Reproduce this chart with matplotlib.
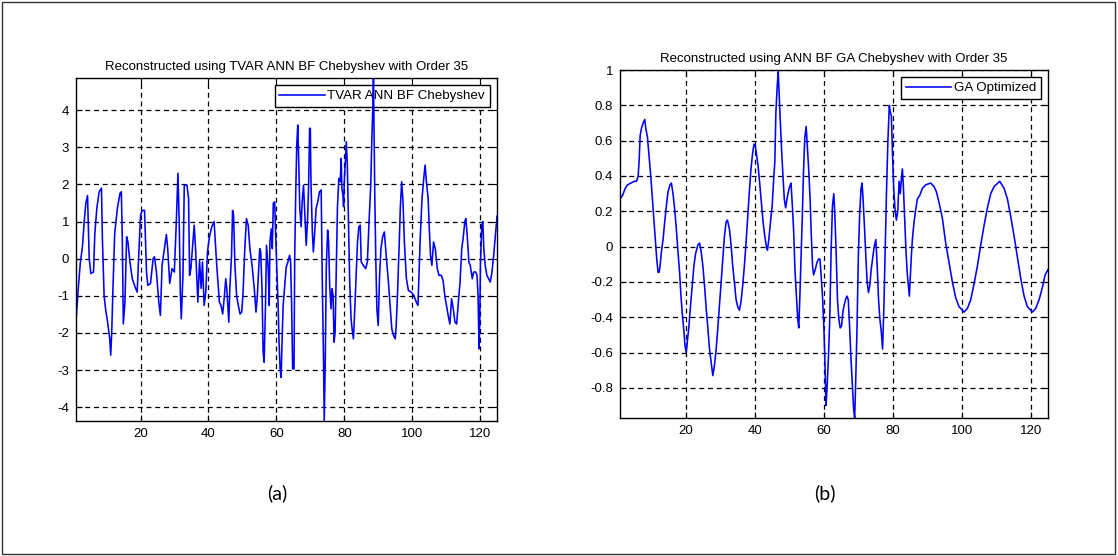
import matplotlib
matplotlib.use('Agg')
import matplotlib.pyplot as plt
from matplotlib.patches import Rectangle
from matplotlib.ticker import FormatStrFormatter

plt.rcParams['font.family'] = ['Liberation Sans', 'DejaVu Sans']
plt.rcParams['axes.unicode_minus'] = False

# (a) TVAR ANN BF Chebyshev reconstruction
a_x = [1, 1.66, 2.24, 2.93, 3.41, 3.9, 4.39, 4.88, 5.37, 6.15, 6.54, 7.12, 7.8, 8.49, 8.78,
       9.27, 9.76, 10.24, 10.93, 11.22, 11.51, 11.9, 12.39, 13.17, 13.95, 14.34, 14.63, 14.93,
       15.41, 15.9, 16.29, 16.88, 17.56, 18.54, 19.02, 19.51, 20.0, 20.49, 21.17, 21.76, 22.15,
       22.93, 23.71, 24.1, 24.68, 25.37, 25.85, 26.34, 27.02, 27.61, 28.0, 28.59, 29.27, 29.95,
       30.54, 31.02, 31.41, 31.71, 32.0, 32.49, 32.88, 33.66, 34.15, 34.44, 34.83, 35.41, 35.8,
       36.2, 36.59, 36.88, 37.37, 37.85, 38.24, 38.73, 39.22, 39.71, 40.29, 40.98, 41.66, 42.44,
       43.22, 43.7, 44.2, 44.7, 45.1, 45.4, 45.7, 46.0, 46.3, 46.8, 47.1, 47.4, 47.8, 48.3, 48.8,
       49.3, 49.8, 50.2, 50.7, 51.2, 51.7, 52.2, 52.9, 53.5, 54.0, 54.4, 55.1, 55.4, 55.8, 56.1,
       56.4, 56.8, 57.1, 57.6, 57.9, 58.1, 58.5, 58.8, 59.1, 59.5, 59.8, 60.2, 60.5, 60.8, 61.1,
       61.4, 61.7, 62.0, 62.4, 62.9, 63.4, 63.9, 64.2, 64.5, 64.8, 65.2, 65.4, 65.7, 66.0, 66.3,
       66.6, 66.9, 67.3, 67.6, 68.0, 68.4, 68.8, 69.2, 69.5, 69.8, 70.0, 70.2, 70.6, 70.9, 71.3,
       71.7, 72.2, 72.7, 73.2, 73.5, 73.9, 74.1, 74.4, 74.7, 75.1, 75.4, 75.7, 76.1, 76.4, 76.7,
       77.0, 77.3, 77.7, 78.0, 78.4, 78.8, 79.1, 79.3, 79.6, 79.8, 80.0, 80.3, 80.6, 80.9, 81.2,
       81.6, 82.0, 82.3, 82.7, 83.1, 83.5, 83.9, 84.3, 84.7, 85.0, 85.6, 86.3, 86.8, 87.3, 87.8,
       88.1, 88.4, 88.6, 88.8, 89.0, 89.3, 89.6, 90.0, 90.4, 90.8, 91.3, 91.8, 92.1, 92.5, 93.0,
       93.5, 94.0, 94.5, 95.0, 95.3, 95.7, 96.2, 96.5, 96.9, 97.3, 97.7, 98.3, 98.9, 99.7, 100.5,
       101.2, 101.7, 102.0, 102.4, 102.9, 103.5, 103.8, 104.2, 104.7, 105.0, 105.4, 105.8, 106.3,
       106.8, 107.4, 107.9, 108.6, 109.1, 109.6, 110.1, 110.6, 111.1, 111.6, 112.1, 112.6, 113.1,
       113.6, 114.1, 114.6, 115.0, 115.5, 115.8, 116.2, 116.7, 117.1, 117.7, 118.1, 118.7, 119.1,
       119.4, 119.7, 119.9, 120.1, 120.5, 120.8, 121.1, 121.5, 122.0, 122.5, 123.0, 123.5, 124.0,
       124.5, 125.0]
a_y = [-1.67, -0.8, -0.14, 0.36, 1.0, 1.5, 1.7, 0.0, -0.4, -0.36, 0.68, 1.35, 1.8, 1.9, 0.5,
       -1.0, -1.4, -1.67, -2.16, -2.6, -2.0, -0.72, 0.68, 1.35, 1.76, 1.8, 0.54, -1.76,
       -1.17, 0.59, 0.45, -0.09, -0.54, -0.8, -0.9, 0.18, 1.17, 1.3, 1.3, -0.36, -0.72,
       -0.67, 0.0, 0.05, -0.36, -1.17, -1.53, -0.18, 0.27, 0.65, 0.27, -0.67, -0.27, -0.36,
       1.0, 2.3, 0.9, -0.9, -1.62, -0.45, 1.98, 1.98, 1.62, -0.45, -0.27, 0.45, 0.9,
       0.27, -0.54, -1.17, -0.05, -0.8, -0.09, -1.26, -0.9, 0.18, 0.59, 0.86, 1.0, -0.18,
       -1.17, -1.26, -1.49, -1.0, -0.54, -0.81, -1.26, -1.71, -0.81, 0.09, 1.3, 1.17, -0.18, -1.0, -1.26,
       -1.49, -1.44, -0.9, 0.27, 1.08, 0.9, 0.27, -0.23, -0.81, -1.44, -1.0, 0.27, 0.18, -0.9, -2.52,
       -2.79, -1.26, 0.36, -0.27, -1.26, 0.45, 0.8, 0.27, 1.49, 1.53, 0.63, -0.45, -1.17, -2.25, -2.97,
       -3.2, -2.16, -1.26, -0.81, -0.23, -0.09, 0.09, -0.09, -1.26, -2.97, -2.97, 0.0, 1.76, 3.02, 3.6,
       2.57, 1.35, 0.86, 1.53, 1.98, 1.17, 0.36, 1.08, 1.98, 3.51, 3.51, 2.03, 0.72, 0.18, 0.72,
       1.35, 1.53, 1.8, 1.85, -0.45, -2.79, -4.37, -2.79, -0.27, 0.77, 0.45, -0.72, -1.35, -0.81, -0.99,
       -2.25, -1.98, -0.09, 1.4, 2.16, 2.07, 2.7, 1.89, 1.71, 1.4, 2.07, 2.57, 3.15, 2.52, 1.17,
       -0.63, -1.62, -1.89, -2.16, -1.35, -0.45, 0.45, 0.86, 0.9, -0.09, -0.18, -0.27, -0.09, 1.0, 1.98,
       3.15, 4.05, 4.87, 3.24, 1.62, -0.09, -1.35, -1.8, -0.45, 0.27, 0.59, 0.72, 0.36, -0.09, -0.63,
       -1.26, -1.89, -2.07, -2.16, -1.8, -0.9, 0.45, 1.35, 2.07, 1.53, 0.45, -0.54, -0.86, -0.9, -0.99,
       -1.17, -1.26, -0.45, 0.63, 1.62, 2.25, 2.52, 2.07, 1.62, 0.9, 0.09, -0.18, 0.45,
       0.27, -0.27, -0.45, -0.45, -0.59, -0.99, -1.26, -1.53, -1.76, -1.08, -1.35, -1.71, -1.76,
       -1.17, -0.63, 0.27, 0.54, 1.0, 1.08, 0.63, -0.09, -0.18, -0.54, -0.36, -0.36, -0.45,
       -0.99, -2.43, -1.71, -0.18, 0.9, 1.0, 0.27, -0.18, -0.45, -0.54, -0.63, -0.36, 0.09,
       0.63, 1.15]

# (b) ANN BF GA Chebyshev reconstruction
b_x = [1, 1.73, 2.5, 3.17, 4.13, 5.1, 5.77, 6.25, 6.54, 6.83, 7.21, 7.69, 8.17, 8.46, 8.94,
       9.42, 9.9, 10.38, 10.87, 11.35, 11.63, 12.02, 12.31, 12.6, 12.98, 13.46, 13.94, 14.42,
       14.9, 15.48, 15.87, 16.35, 16.83, 17.31, 17.79, 18.27, 18.65, 19.04, 19.52, 19.81, 20.19,
       20.48, 20.96, 21.44, 21.92, 22.4, 22.88, 23.56, 24.04, 24.52, 25.0, 25.48, 25.96, 26.44,
       26.92, 27.5, 27.88, 28.37, 28.85, 29.33, 29.81, 30.29, 30.77, 31.25, 31.73, 32.12, 32.69,
       33.17, 33.65, 34.13, 34.62, 35.1, 35.58, 36.06, 36.54, 37.02, 37.5, 37.98, 38.46, 38.94,
       39.42, 39.81, 40.19, 40.49, 40.98, 41.46, 41.95, 42.44, 42.93, 43.41, 43.71, 44.1, 44.59,
       45.07, 45.56, 45.85, 46.15, 46.54, 46.83, 47.12, 47.41, 47.8, 48.2, 48.59, 48.98, 49.37,
       49.76, 50.15, 50.54, 50.93, 51.32, 51.71, 52.1, 52.49, 52.78, 53.07, 53.37, 53.76, 54.15,
       54.54, 54.93, 55.32, 55.71, 56.1, 56.39, 56.78, 57.07, 57.56, 58.05, 58.54, 58.93, 59.32,
       59.71, 60.1, 60.39, 60.68, 60.98, 61.37, 61.76, 62.15, 62.54, 62.93, 63.22, 63.61, 64.0,
       64.39, 64.78, 65.17, 65.56, 65.95, 66.34, 66.73, 67.12, 67.51, 67.9, 68.29, 68.68, 68.98,
       69.27, 69.66, 70.05, 70.44, 70.83, 71.12, 71.41, 71.8, 72.2, 72.59, 72.98, 73.37, 73.76,
       74.15, 74.63, 75.12, 75.51, 75.9, 76.29, 76.68, 77.07, 77.46, 77.85, 78.24, 78.63, 79.02,
       79.32, 79.61, 79.9, 80.29, 80.68, 81.07, 81.46, 81.85, 82.2, 82.5, 82.8, 83.09, 83.48,
       83.86, 84.25, 84.54, 84.83, 85.12, 85.41, 85.7, 86.18, 86.67, 87.15, 87.83, 88.6, 89.57,
       91.01, 91.98, 92.66, 93.43, 94.4, 95.36, 96.33, 97.29, 98.26, 99.23, 100.68, 101.64, 102.61,
       103.57, 104.54, 105.51, 106.47, 107.44, 108.41, 109.37, 111.01, 112.27, 113.24, 114.2,
       115.17, 116.14, 117.1, 118.07, 119.03, 120.48, 121.45, 122.42, 123.38, 124.15, 125.0]
b_y = [0.27, 0.29, 0.33, 0.35, 0.36, 0.37, 0.37, 0.40, 0.49, 0.63, 0.67, 0.70, 0.72, 0.67, 0.62,
       0.51, 0.40, 0.27, 0.14, 0.0, -0.07, -0.145, -0.145, -0.11, -0.03, 0.04, 0.14, 0.23,
       0.31, 0.35, 0.36, 0.30, 0.21, 0.10, -0.03, -0.15, -0.28, -0.38, -0.48, -0.56, -0.60,
       -0.54, -0.45, -0.33, -0.22, -0.11, -0.04, 0.01, 0.02, -0.03, -0.11, -0.22, -0.35, -0.46,
       -0.58, -0.67, -0.73, -0.67, -0.58, -0.46, -0.33, -0.20, -0.07, 0.06, 0.14, 0.15, 0.10,
       0.01, -0.11, -0.20, -0.30, -0.34, -0.36, -0.31, -0.22, -0.11, 0.02, 0.17, 0.31, 0.44,
       0.53, 0.58, 0.57, 0.53, 0.46, 0.36, 0.25, 0.14, 0.06, 0.0, -0.02, 0.04, 0.14,
       0.23, 0.40, 0.48, 0.76, 0.91, 0.99, 0.85, 0.72, 0.55, 0.40, 0.27, 0.22, 0.27,
       0.31, 0.34, 0.36, 0.23, 0.08, -0.145, -0.28, -0.41, -0.46, -0.30, -0.11, 0.14, 0.42,
       0.62, 0.68, 0.55, 0.42, 0.25, 0.08, -0.11, -0.16, -0.13, -0.09, -0.07, -0.07, -0.18,
       -0.30, -0.48, -0.67, -0.90, -0.80, -0.63, -0.41, -0.03, 0.23, 0.30, 0.19, -0.03, -0.30,
       -0.41, -0.46, -0.45, -0.37, -0.33, -0.30, -0.28, -0.30, -0.45, -0.63, -0.77, -0.92, -0.97,
       -0.77, -0.46, -0.05, 0.19, 0.33, 0.36, 0.27, 0.12, -0.05, -0.20, -0.26, -0.22, -0.13,
       -0.07, 0.0, 0.04, -0.11, -0.30, -0.41, -0.48, -0.58, -0.33, 0.0, 0.34, 0.61, 0.80,
       0.76, 0.74, 0.55, 0.33, 0.21, 0.15, 0.20, 0.37, 0.30, 0.38, 0.44, 0.34, 0.16,
       -0.03, -0.16, -0.22, -0.28, -0.16, -0.05, 0.04, 0.14, 0.21, 0.27, 0.29, 0.33, 0.35,
       0.36, 0.34, 0.31, 0.25, 0.16, 0.02, -0.09, -0.20, -0.29, -0.34, -0.37, -0.35, -0.30,
       -0.21, -0.11, 0.01, 0.12, 0.22, 0.30, 0.34, 0.37, 0.33, 0.27, 0.17,
       0.06, -0.06, -0.18, -0.28, -0.34, -0.37, -0.35, -0.30, -0.23, -0.16, -0.13]

x_ticks = [20, 40, 60, 80, 100, 120]
a_yticks = [-4, -3, -2, -1, 0, 1, 2, 3, 4]
b_yticks = [-0.8, -0.6, -0.4, -0.2, 0, 0.2, 0.4, 0.6, 0.8, 1]

fig = plt.figure(figsize=(11.18, 5.56), dpi=100)
fig.patch.set_facecolor('white')

panels = [
    ([0.068, 0.243, 0.3766, 0.617], a_x, a_y, a_yticks,
     'Reconstructed using TVAR ANN BF Chebyshev with Order 35', 'TVAR ANN BF Chebyshev', '(a)'),
    ([0.5546, 0.2482, 0.3828, 0.6259], b_x, b_y, b_yticks,
     'Reconstructed using ANN BF GA Chebyshev with Order 35', 'GA Optimized', '(b)'),
]

for rect, xs, ys, yt, title, lab, tag in panels:
    ax = fig.add_axes(rect)
    ax.plot(xs, ys, color='#0000ff', lw=1.15, label=lab, zorder=2)
    ax.set_xlim(1, 125)
    ax.set_ylim(min(ys), max(ys))
    ax.set_xticks(x_ticks)
    ax.set_yticks(yt)
    ax.yaxis.set_major_formatter(FormatStrFormatter('%g'))
    ax.set_axisbelow(True)
    ax.grid(True, color='black', linestyle=(0, (4, 3)), lw=0.9)
    ax.tick_params(direction='in', top=True, right=True, length=4, labelsize=9.5, pad=5)
    for s in ax.spines.values():
        s.set_linewidth(1.0)
    ax.set_title(title, fontsize=9.5, pad=6)
    leg = ax.legend(loc='upper right', fontsize=9.6, fancybox=False, framealpha=1,
                    edgecolor='black', borderpad=0.35, handlelength=3.4, handletextpad=0.2,
                    borderaxespad=0.55)
    leg.get_frame().set_linewidth(1.0)
    leg.set_zorder(1.5)
    cx = rect[0] + rect[2] / 2
    fig.text(cx - 0.008, 0.113, tag, fontsize=14, ha='center', va='center', family='Lato')

fig.add_artist(Rectangle((0.002, 0.004), 0.995, 0.992, transform=fig.transFigure,
                         fill=False, edgecolor='#333333', lw=1.0))

fig.savefig('out.png', dpi=100, facecolor='white')
